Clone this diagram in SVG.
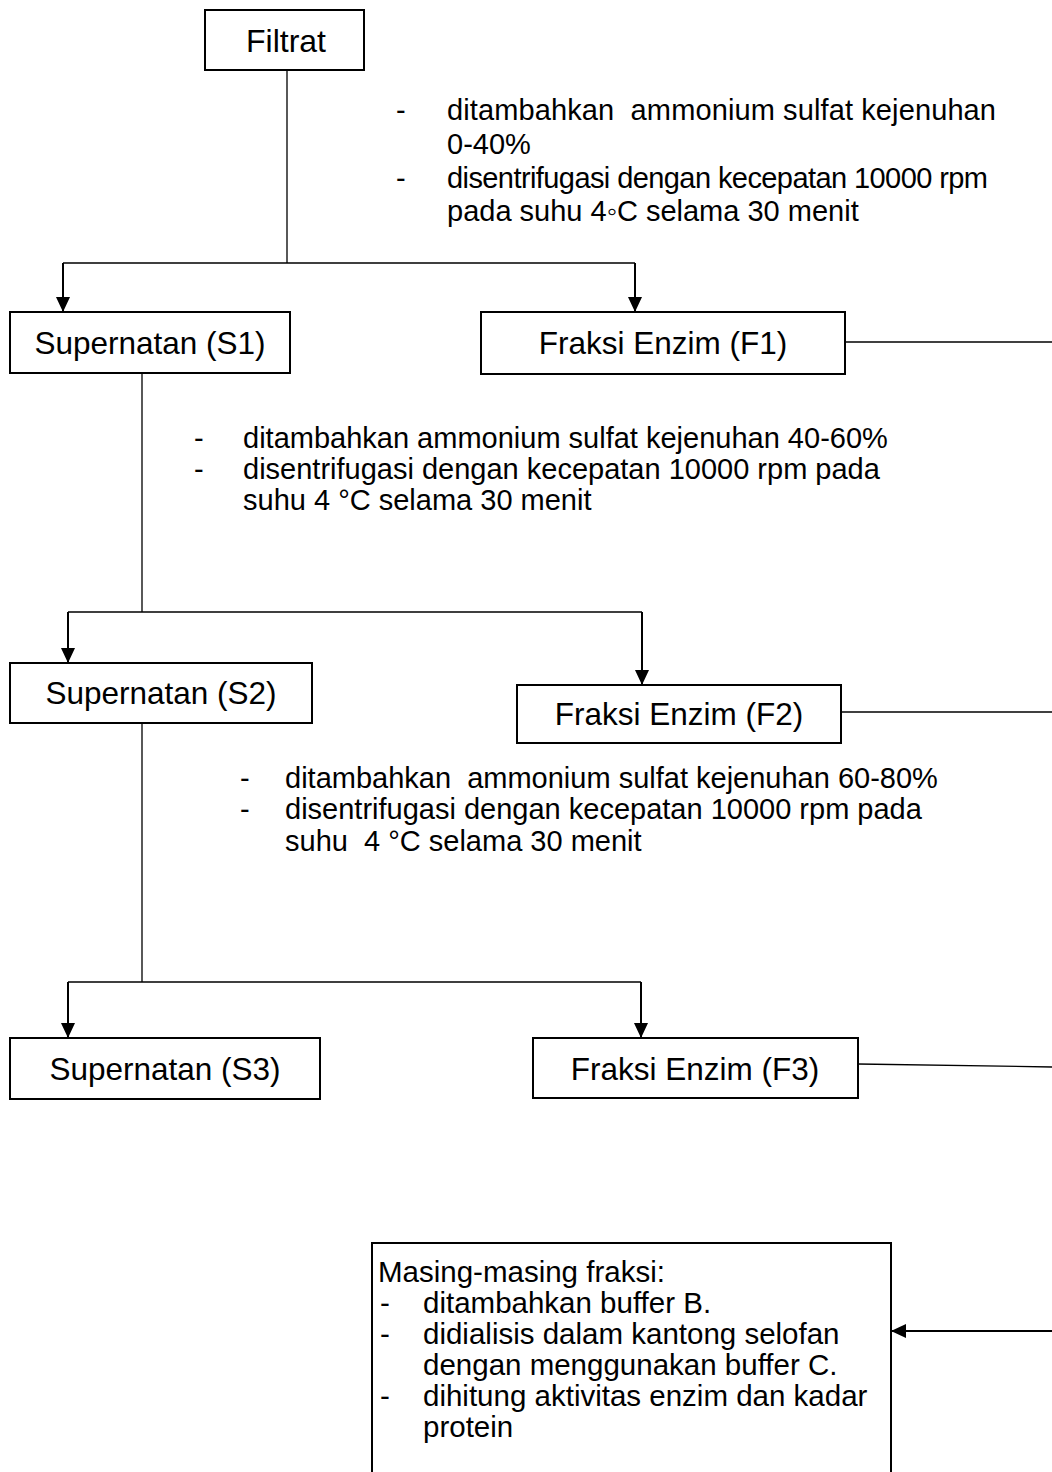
<svg xmlns="http://www.w3.org/2000/svg" width="1052" height="1472" viewBox="0 0 1052 1472">
  <style>
    .box { fill: #ffffff; stroke: #000000; stroke-width: 2; }
    .lbl { font-family: "Liberation Sans", Arial, sans-serif; font-size: 29px; fill: #000000; }
    .name { font-family: "Liberation Sans", Arial, sans-serif; font-size: 31.5px; fill: #000000; text-anchor: middle; }
    .wire { fill: none; stroke: #000000; stroke-width: 1.3; }
    .arrow { fill: none; stroke: #000000; stroke-width: 2; marker-end: url(#head); }
  </style>
  <defs>
    <marker id="head" markerUnits="userSpaceOnUse" viewBox="0 0 15 14" refX="15" refY="7" markerWidth="15" markerHeight="14" orient="auto">
      <path d="M0,0 L15,7 L0,14 z" fill="#000000"/>
    </marker>
  </defs>

  <rect width="1052" height="1472" fill="#ffffff"/>

  <!-- connectors -->
  <g id="connectors">
    <!-- Filtrat split -->
    <path class="wire" d="M287,70 V263 M63,263 H635"/>
    <path class="arrow" d="M63,263 V312"/>
    <path class="arrow" d="M635,263 V312"/>
    <!-- S1 split -->
    <path class="wire" d="M142,373 V612 M68,612 H642"/>
    <path class="arrow" d="M68,612 V663"/>
    <path class="arrow" d="M642,612 V685"/>
    <!-- S2 split -->
    <path class="wire" d="M142,723 V982 M68,982 H641"/>
    <path class="arrow" d="M68,982 V1038"/>
    <path class="arrow" d="M641,982 V1038"/>
    <!-- fraction outputs to the right margin -->
    <path class="wire" d="M845,342 H1052"/>
    <path class="wire" d="M841,712 H1052"/>
    <path class="wire" d="M858,1064 L1052,1067"/>
    <!-- return into the final treatment box -->
    <path class="arrow" d="M1052,1331 H891"/>
  </g>

  <!-- step annotations -->
  <g id="note-1" class="lbl">
    <text x="396" y="120">-</text>
    <text x="447" y="120" xml:space="preserve" textLength="549" lengthAdjust="spacing">ditambahkan  ammonium sulfat kejenuhan</text>
    <text x="447" y="154">0-40%</text>
    <text x="396" y="188">-</text>
    <text x="447" y="188" textLength="541" lengthAdjust="spacing">disentrifugasi dengan kecepatan 10000 rpm</text>
    <text x="447" y="221">pada suhu 4◦C selama 30 menit</text>
  </g>
  <g id="note-2" class="lbl">
    <text x="194" y="448">-</text>
    <text x="243" y="448">ditambahkan ammonium sulfat kejenuhan 40-60%</text>
    <text x="194" y="479">-</text>
    <text x="243" y="479">disentrifugasi dengan kecepatan 10000 rpm pada</text>
    <text x="243" y="510">suhu 4 °C selama 30 menit</text>
  </g>
  <g id="note-3" class="lbl">
    <text x="240" y="788">-</text>
    <text x="285" y="788" xml:space="preserve">ditambahkan  ammonium sulfat kejenuhan 60-80%</text>
    <text x="240" y="819">-</text>
    <text x="285" y="819">disentrifugasi dengan kecepatan 10000 rpm pada</text>
    <text x="285" y="851" xml:space="preserve">suhu  4 °C selama 30 menit</text>
  </g>

  <!-- nodes -->
  <g id="filtrat">
    <rect class="box" x="205" y="10" width="159" height="60"/>
    <text class="name" x="286" y="52" style="font-size:32px">Filtrat</text>
  </g>
  <g id="s1">
    <rect class="box" x="10" y="312" width="280" height="61"/>
    <text class="name" x="150" y="354">Supernatan (S1)</text>
  </g>
  <g id="f1">
    <rect class="box" x="481" y="312" width="364" height="62"/>
    <text class="name" x="663" y="354">Fraksi Enzim (F1)</text>
  </g>
  <g id="s2">
    <rect class="box" x="10" y="663" width="302" height="60"/>
    <text class="name" x="161" y="704">Supernatan (S2)</text>
  </g>
  <g id="f2">
    <rect class="box" x="517" y="685" width="324" height="58"/>
    <text class="name" x="679" y="725">Fraksi Enzim (F2)</text>
  </g>
  <g id="s3">
    <rect class="box" x="10" y="1038" width="310" height="61"/>
    <text class="name" x="165" y="1080">Supernatan (S3)</text>
  </g>
  <g id="f3">
    <rect class="box" x="533" y="1038" width="325" height="60"/>
    <text class="name" x="695" y="1080">Fraksi Enzim (F3)</text>
  </g>
  <g id="final">
    <rect class="box" x="372" y="1243" width="519" height="240"/>
    <g class="lbl" style="font-size:29.5px">
      <text x="378" y="1282">Masing-masing fraksi:</text>
      <text x="380" y="1313">-</text>
      <text x="423" y="1313">ditambahkan buffer B.</text>
      <text x="380" y="1344">-</text>
      <text x="423" y="1344">didialisis dalam kantong selofan</text>
      <text x="423" y="1375">dengan menggunakan buffer C.</text>
      <text x="380" y="1406">-</text>
      <text x="423" y="1406">dihitung aktivitas enzim dan kadar</text>
      <text x="423" y="1437">protein</text>
    </g>
  </g>
</svg>
